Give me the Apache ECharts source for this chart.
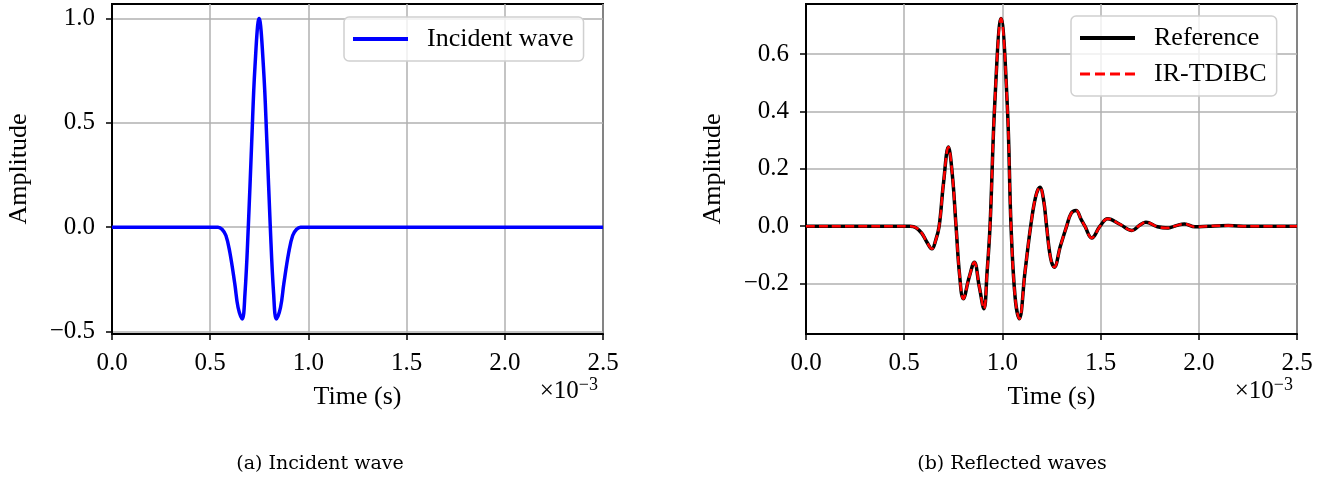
<!DOCTYPE html>
<html>
<head>
<meta charset="utf-8">
<script src="https://cdn.jsdelivr.net/npm/echarts@6/dist/echarts.min.js"></script>
<style>
  html, body { margin: 0; padding: 0; background: #fff; }
  #chart { width: 1335px; height: 477px; }
</style>
</head>
<body>
<div id="chart"></div>
<script>
// time in units of 1e-3 s
var incidentWave = [
  [0, 0], [0.3, 0], [0.5, 0], [0.54, 0], [0.56, -0.01], [0.58, -0.04], [0.60, -0.12],
  [0.625, -0.27], [0.642, -0.385], [0.663, -0.44], [0.677, -0.32], [0.694, 0],
  [0.711, 0.40], [0.728, 0.77], [0.749, 1.0], [0.771, 0.77], [0.789, 0.40],
  [0.806, 0], [0.823, -0.32], [0.837, -0.44], [0.858, -0.385], [0.875, -0.27],
  [0.90, -0.12], [0.92, -0.04], [0.94, -0.01], [0.96, 0], [1.0, 0], [1.5, 0], [2.0, 0], [2.5, 0]
];

var reflectedRef = [
  [0, 0], [0.3, 0], [0.53, 0], [0.56, -0.005], [0.59, -0.025], [0.615, -0.055],
  [0.641, -0.079], [0.66, -0.05], [0.678, 0], [0.70, 0.15], [0.725, 0.276],
  [0.745, 0.18], [0.764, 0], [0.782, -0.17], [0.801, -0.253], [0.83, -0.18],
  [0.857, -0.126], [0.882, -0.21], [0.906, -0.288], [0.922, -0.16], [0.937, 0],
  [0.962, 0.44], [0.993, 0.724], [1.025, 0.42], [1.044, 0], [1.065, -0.25],
  [1.086, -0.323], [1.115, -0.16], [1.144, 0], [1.17, 0.105], [1.191, 0.136],
  [1.21, 0.09], [1.225, 0], [1.245, -0.11], [1.264, -0.143], [1.295, -0.07],
  [1.327, 0], [1.35, 0.045], [1.375, 0.055], [1.40, 0.025], [1.42, 0],
  [1.455, -0.041], [1.497, 0], [1.536, 0.026], [1.60, 0.006], [1.659, -0.015],
  [1.70, 0.004], [1.731, 0.014], [1.79, -0.002], [1.844, -0.006], [1.885, 0.002],
  [1.927, 0.008], [1.98, -0.002], [2.05, 0], [2.15, 0.002], [2.25, 0], [2.5, 0]
];

var reflectedIR = reflectedRef.slice();

var xTicks = [0, 0.5, 1.0, 1.5, 2.0, 2.5];
var yTicksA = [-0.5, 0, 0.5, 1.0];
var yTicksB = [-0.2, 0, 0.2, 0.4, 0.6];

var chart = echarts.init(document.getElementById('chart'));

var serif = 'Liberation Serif';
var gridColor = '#b0b0b0';

function fmt(v) {
  return (v < 0 ? '\u2212' : '') + Math.abs(v).toFixed(1);
}

function xAxisOpt(idx) {
  return {
    type: 'value', gridIndex: idx, min: 0, max: 2.5, interval: 0.5,
    name: 'Time (s)', nameLocation: 'middle', nameGap: 50,
    nameTextStyle: { fontFamily: serif, fontSize: 26, color: '#000' },
    axisLine: { show: true, onZero: false, lineStyle: { color: '#000', width: 2 } },
    axisTick: { show: true, inside: false, length: 6, customValues: xTicks, lineStyle: { color: '#000', width: 1.5 } },
    axisLabel: { margin: 17, fontFamily: serif, fontSize: 25, color: '#000', formatter: fmt, customValues: xTicks },
    splitLine: { show: true, lineStyle: { color: gridColor, width: 1.5 } }
  };
}

function yAxisOpt(idx, min, max, ticks, split) {
  return {
    type: 'value', gridIndex: idx, min: min, max: max, splitNumber: split,
    name: 'Amplitude', nameLocation: 'middle', nameGap: 80,
    nameTextStyle: { fontFamily: serif, fontSize: 26, color: '#000' },
    axisLine: { show: true, onZero: false, lineStyle: { color: '#000', width: 2 } },
    axisTick: { show: true, inside: false, length: 6, customValues: ticks, lineStyle: { color: '#000', width: 1.5 } },
    axisLabel: { margin: 17, fontFamily: serif, fontSize: 25, color: '#000', formatter: fmt, customValues: ticks },
    splitLine: { show: true, lineStyle: { color: gridColor, width: 1.5 } }
  };
}

var solidIcon = 'path://M0,0h55v4h-55z';
var dashIcon = 'path://M0,0h10v3h-10z M15,0h10v3h-10z M30,0h10v3h-10z M45,0h10v3h-10z';

function legendOpt(items, left, top, vertical) {
  return {
    data: items, left: left, top: top, orient: vertical ? 'vertical' : 'horizontal',
    itemWidth: 55, itemHeight: 4, itemGap: 10,
    padding: [9, 10, 9, 9],
    backgroundColor: 'rgba(255,255,255,0.8)', borderColor: '#d0d0d0',
    borderWidth: 1.5, borderRadius: 5,
    textStyle: { fontFamily: serif, fontSize: 26, color: '#000', padding: [0, 0, 0, 14], lineHeight: 26 }
  };
}

var sup = {
  fontWeight: 'normal',
  rich: {
    m: { fontFamily: serif, fontSize: 25, fontWeight: 'normal', color: '#000' },
    s: { fontFamily: serif, fontSize: 18, fontWeight: 'normal', color: '#000', padding: [0, 0, 12, 0] }
  }
};

var captionStyle = { fontFamily: 'DejaVu Serif', fontSize: 19, fontWeight: 'normal', color: '#000' };

var option = {
  backgroundColor: '#fff',
  animation: false,
  title: [
    { text: '{m|\u00d710}{s|\u22123}', right: 1335 - 603, top: 371, textStyle: sup },
    { text: '{m|\u00d710}{s|\u22123}', right: 1335 - 1298, top: 371, textStyle: sup },
    { text: '(a) Incident wave', left: 315, top: 450, textAlign: 'center', textStyle: captionStyle },
    { text: '(b) Reflected waves', left: 1007, top: 450, textAlign: 'center', textStyle: captionStyle }
  ],
  grid: [
    { left: 112, right: 1335 - 603, top: 4, bottom: 477 - 334, show: true,
      borderColor: '#000', borderWidth: 2, backgroundColor: 'transparent' },
    { left: 806, right: 1335 - 1297, top: 4, bottom: 477 - 334, show: true,
      borderColor: '#000', borderWidth: 2, backgroundColor: 'transparent' }
  ],
  legend: [
    legendOpt([{ name: 'Incident wave', icon: solidIcon }], 344, 17, false),
    legendOpt([{ name: 'Reference', icon: solidIcon }, { name: 'IR-TDIBC', icon: dashIcon }], 1071, 16, true)
  ],
  xAxis: [xAxisOpt(0), xAxisOpt(1)],
  yAxis: [
    yAxisOpt(0, -0.512, 1.07, yTicksA, 3),
    yAxisOpt(1, -0.376, 0.775, yTicksB, 5)
  ],
  series: [
    {
      name: 'Incident wave', type: 'line', xAxisIndex: 0, yAxisIndex: 0,
      data: incidentWave, showSymbol: false, symbol: 'none', smooth: 0.4,
      lineStyle: { color: '#0000ff', width: 3.5 }, itemStyle: { color: '#0000ff' }
    },
    {
      name: 'Reference', type: 'line', xAxisIndex: 1, yAxisIndex: 1,
      data: reflectedRef, showSymbol: false, symbol: 'none', smooth: 0.4,
      lineStyle: { color: '#000', width: 3.5 }, itemStyle: { color: '#000' }
    },
    {
      name: 'IR-TDIBC', type: 'line', xAxisIndex: 1, yAxisIndex: 1,
      data: reflectedIR, showSymbol: false, symbol: 'none', smooth: 0.4,
      lineStyle: { color: '#ff0000', width: 2.5, type: [9, 4] }, itemStyle: { color: '#ff0000' }
    }
  ]
};

chart.setOption(option);
</script>
</body>
</html>
